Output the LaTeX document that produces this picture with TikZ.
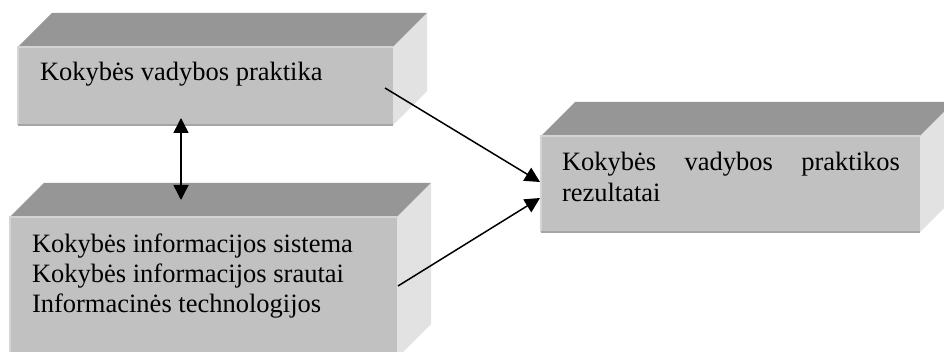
\documentclass[tikz,border=0pt]{standalone}
\usepackage{fontspec}
\setmainfont{Liberation Serif}
\usetikzlibrary{calc,arrows.meta}
\definecolor{topc}{RGB}{150,150,150}
\definecolor{frontc}{RGB}{193,193,193}
\definecolor{sidec}{RGB}{226,226,226}
\definecolor{lightedge}{RGB}{212,212,212}
\definecolor{darkedge}{RGB}{165,165,165}
\tikzset{
  front/.style={fill=frontc, draw=none, inner sep=0pt, outer sep=0pt},
  topface/.style={fill=topc, draw=none},
  sideface/.style={fill=sidec, draw=none},
  ledge/.style={draw=lightedge, line width=1.5pt},
  dedge/.style={draw=darkedge, line width=1.5pt},
  txt/.style={inner sep=0pt, outer sep=0pt, font=\fontsize{26.5}{30}\selectfont},
  conn/.style={line width=1.5pt, -{Triangle[length=15pt,width=15pt]}},
  dconn/.style={line width=1.5pt, {Triangle[length=15pt,width=15pt]}-{Triangle[length=15pt,width=15pt]}},
}
\newcommand{\mybox}[1]{%
  \fill[topface] (#1.north west) -- ++(34,-34) -- ($(#1.north east)+(34,-34)$) -- (#1.north east) -- cycle;
  \fill[sideface] (#1.north east) -- ++(34,-34) -- ($(#1.south east)+(34,-34)$) -- (#1.south east) -- cycle;
  \draw[ledge] (#1.south west) -- (#1.north west) -- (#1.north east);
  \draw[dedge] (#1.south west) -- (#1.south east);
}
\begin{document}
\begin{tikzpicture}[x=1pt,y=-1pt]
\useasboundingbox (0,0) rectangle (944,352);
\fill[white] (0,0) rectangle (944,352);
% front faces
\node[front, minimum width=375pt, minimum height=78pt] (f1) at (205.5,86) {};
\mybox{f1}
\node[front, minimum width=387pt, minimum height=141pt] (f2) at (203.5,287.5) {};
\mybox{f2}
\node[front, minimum width=379pt, minimum height=96pt] (f3) at (730.5,184) {};
\mybox{f3}
% texts
\node[txt, anchor=base west] (t1) at (40,81) {Kokybės vadybos praktika};
\node[txt, anchor=base west] (t2) at (32,253) {\parbox[t]{360pt}{\fontsize{26.5}{30}\selectfont\raggedright Kokybės informacijos sistema\\ Kokybės informacijos srautai\\ Informacinės technologijos}};
\node[txt, anchor=base west] (t3) at (562,171) {\parbox[t]{338pt}{\fontsize{26.5}{31}\selectfont Kokybės\hfill vadybos\hfill praktikos\\ rezultatai}};
% connectors
\coordinate (u) at (181,118);
\coordinate (d) at (181,200);
\draw[dconn] (u) -- (d);
\coordinate (s1) at (385,88);
\coordinate (e1) at (540,182);
\draw[conn] (s1) -- (e1);
\coordinate (s2) at (398,286);
\coordinate (e2) at (540,198);
\draw[conn] (s2) -- (e2);
\end{tikzpicture}
\end{document}
